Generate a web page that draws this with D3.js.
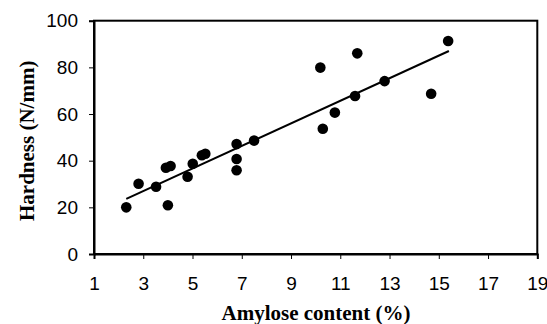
<!DOCTYPE html>
<html><head><meta charset="utf-8">
<script src="https://cdn.jsdelivr.net/npm/d3@7"></script>
<style>body{margin:0;background:#fff}svg{display:block}</style>
</head><body>
<svg id="c" width="547" height="324"></svg>
<script>
const amylose  = [2.31,2.81,3.52,3.92,4.11,4.00,4.80,5.01,5.38,5.52,6.79,6.79,6.79,7.50,10.19,10.29,10.78,11.60,11.69,12.80,14.69,15.38];
const hardness = [20.0,30.1,28.8,37.0,37.7,20.9,33.1,38.7,42.3,43.0,47.1,40.7,35.9,48.6,79.9,53.7,60.6,67.7,86.0,74.1,68.7,91.3];
const trendX = [2.31, 15.41];
const trendY = [23.6, 87.0];
const xTicks = [1,3,5,7,9,11,13,15,17,19];
const yTicks = [0,20,40,60,80,100];

const svg = d3.select("#c");
const L=94, R=537.3, T=20.7, B=254;
const x = d3.scaleLinear().domain([1,19]).range([L,R]);
const y = d3.scaleLinear().domain([0,100]).range([B,T]);

svg.append("rect").attr("x",L).attr("y",T).attr("width",R-L).attr("height",B-T)
  .attr("fill","none").attr("stroke","#000").attr("stroke-width",2);

const xa = svg.append("g").attr("transform",`translate(0,${B})`)
  .call(d3.axisBottom(x).tickValues(xTicks).tickSize(5).tickPadding(18).tickFormat(d3.format("d")));
const ya = svg.append("g").attr("transform",`translate(${L},0)`)
  .call(d3.axisLeft(y).tickValues(yTicks).tickSize(5).tickPadding(11).tickFormat(d3.format("d")));
[xa,ya].forEach(a=>{
  a.select(".domain").attr("stroke","#000").attr("stroke-width",2);
  a.selectAll(".tick line").attr("stroke","#000").attr("stroke-width",1);
  a.selectAll("text").attr("font-family","'Liberation Sans', Arial, sans-serif").attr("font-size",19).attr("fill","#000");
});

svg.append("line")
  .attr("x1",x(trendX[0])).attr("y1",y(trendY[0]))
  .attr("x2",x(trendX[1])).attr("y2",y(trendY[1]))
  .attr("stroke","#000").attr("stroke-width",2);

svg.append("g").selectAll("circle").data(amylose.map((a,i)=>[a,hardness[i]]))
  .join("circle").attr("cx",d=>x(d[0])).attr("cy",d=>y(d[1])).attr("r",5.3).attr("fill","#000");

svg.append("text").attr("x",316).attr("y",320).attr("text-anchor","middle")
  .attr("font-family","'Liberation Serif','Times New Roman',serif").attr("font-weight","bold").attr("font-size",21)
  .text("Amylose content (%)");
svg.append("text").attr("transform","translate(34,140.8) rotate(-90)").attr("text-anchor","middle")
  .attr("font-family","'Liberation Serif','Times New Roman',serif").attr("font-weight","bold").attr("font-size",21)
  .text("Hardness (N/mm)");
</script>
</body></html>
